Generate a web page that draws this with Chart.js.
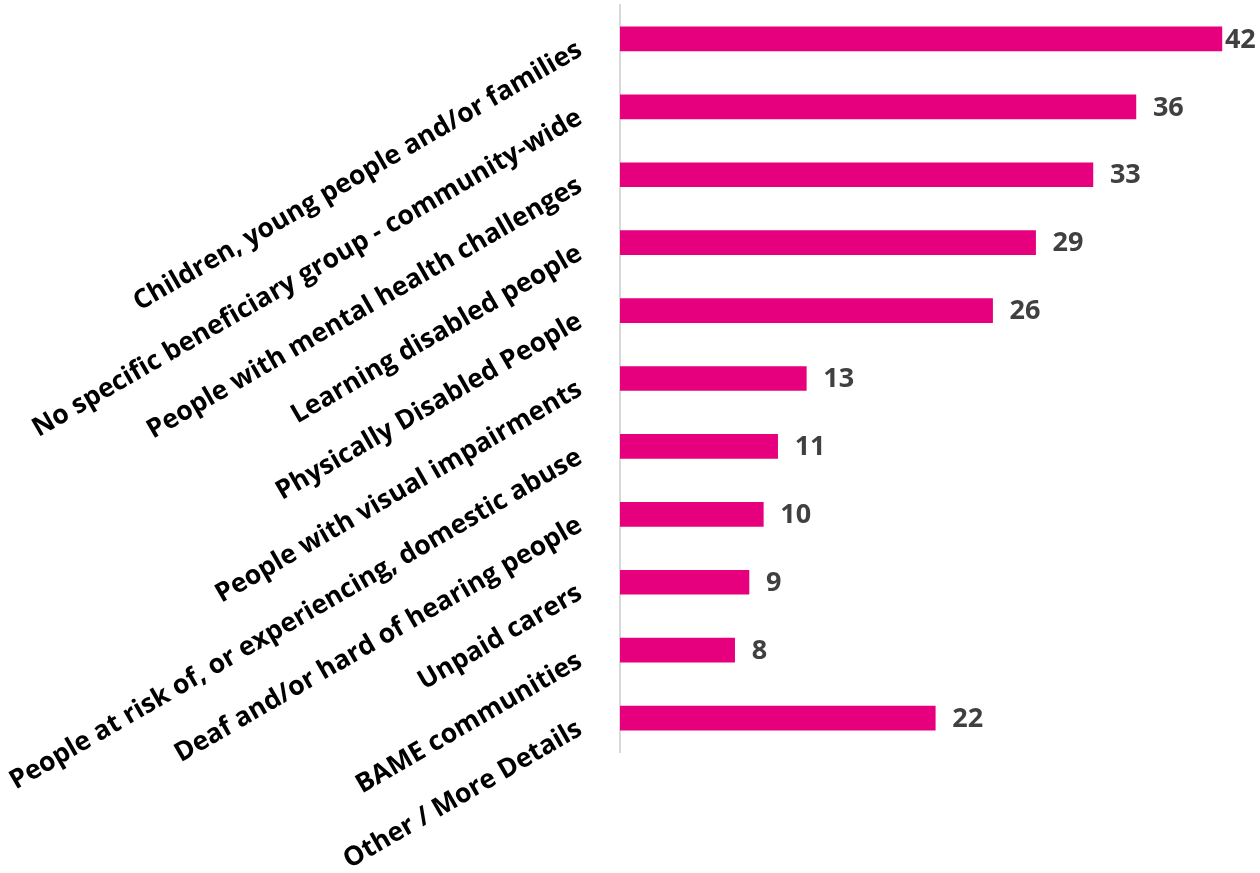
<!DOCTYPE html>
<html>
<head>
<meta charset="utf-8">
<script src="https://cdn.jsdelivr.net/npm/chart.js@4.4.1/dist/chart.umd.min.js"></script>
<style>
  html, body { margin: 0; padding: 0; background: #fff; }
  #wrap { width: 1260px; height: 873px; }
</style>
</head>
<body>
<div id="wrap"><canvas id="myChart" width="1260" height="873"></canvas></div>
<script>
const categories = [
    'Children, young people and/or families',
    'No specific beneficiary group - community-wide',
    'People with mental health challenges',
    'Learning disabled people',
    'Physically Disabled People',
    'People with visual impairments',
    'People at risk of, or experiencing, domestic abuse',
    'Deaf and/or hard of hearing people',
    'Unpaid carers',
    'BAME communities',
    'Other / More Details'
];
const counts = [42, 36, 33, 29, 26, 13, 11, 10, 9, 8, 22];

const barColor = '#E6007E';
const labelFont = 'bold 26.5px "Open Sans"';
const valueFont = 'bold 27px "Open Sans"';

// etiquetas de categoría giradas (Chart.js no gira las del eje Y)
const rotatedLabels = {
    id: 'rotatedLabels',
    afterDraw(chart) {
        const ctx = chart.ctx;
        const yScale = chart.scales.y;
        const left = chart.chartArea.left;
        ctx.save();
        ctx.font = labelFont;
        ctx.fillStyle = '#000';
        ctx.textAlign = 'right';
        ctx.textBaseline = 'middle';
        categories.forEach((label, i) => {
            const y = yScale.getPixelForTick(i);
            ctx.save();
            ctx.translate(left - 40, y + 9);
            ctx.rotate(-Math.PI / 6);
            ctx.fillText(label, 0, 0);
            ctx.restore();
        });
        ctx.restore();
    }
};

// valores al final de cada barra
const valueLabels = {
    id: 'valueLabels',
    afterDatasetsDraw(chart) {
        const ctx = chart.ctx;
        const meta = chart.getDatasetMeta(0);
        ctx.save();
        ctx.font = valueFont;
        ctx.fillStyle = '#404040';
        ctx.textAlign = 'left';
        ctx.textBaseline = 'middle';
        meta.data.forEach((bar, i) => {
            const text = String(counts[i]);
            const w = ctx.measureText(text).width;
            let x = bar.x + 17;
            if (x + w > chart.width - 3) x = bar.x + 3;
            ctx.fillText(text, x, bar.y + 1);
        });
        ctx.restore();
    }
};

new Chart(document.getElementById('myChart'), {
    type: 'bar',
    data: {
        labels: categories,
        datasets: [{
            data: counts,
            backgroundColor: barColor,
            borderWidth: 0,
            barThickness: 24
        }]
    },
    options: {
        indexAxis: 'y',
        responsive: false,
        animation: false,
        layout: { padding: { left: 612, top: 5, bottom: 121, right: 0 } },
        plugins: { legend: { display: false }, tooltip: { enabled: false } },
        scales: {
            x: { display: false, min: 0, max: 44.66 },
            y: {
                ticks: { display: false },
                grid: { display: false },
                border: { display: true, color: '#d9d9d9', width: 2 }
            }
        }
    },
    plugins: [rotatedLabels, valueLabels]
});
</script>
</body>
</html>
